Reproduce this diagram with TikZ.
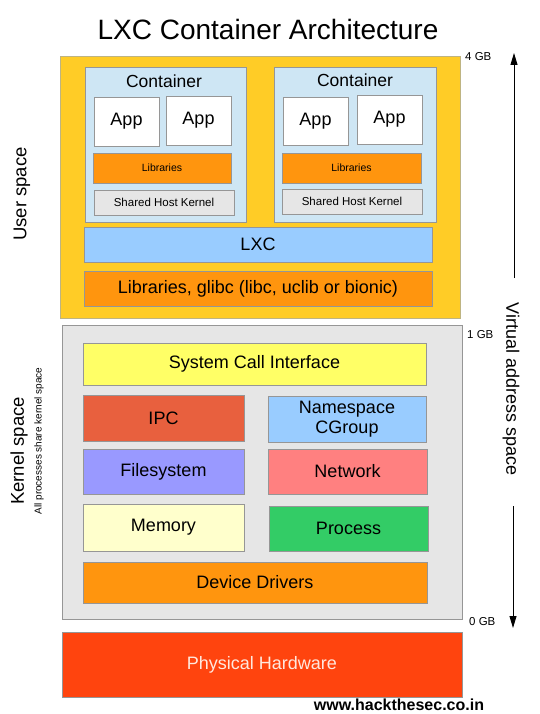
\documentclass[tikz,border=0pt]{standalone}
\usepackage{fontspec}
\setmainfont{Liberation Sans}
\usetikzlibrary{arrows.meta}
\definecolor{uyellow}{RGB}{255,204,38}
\definecolor{ublue}{RGB}{206,230,244}
\definecolor{uorange}{RGB}{255,149,14}
\definecolor{ugray}{RGB}{230,230,230}
\definecolor{lxcblue}{RGB}{153,204,255}
\definecolor{syellow}{RGB}{255,255,102}
\definecolor{ipcred}{RGB}{232,96,62}
\definecolor{fsblue}{RGB}{153,153,255}
\definecolor{netred}{RGB}{255,128,128}
\definecolor{memyellow}{RGB}{255,255,204}
\definecolor{procgreen}{RGB}{51,204,102}
\definecolor{hwred}{RGB}{255,68,14}
\definecolor{hwtext}{RGB}{255,232,222}
\definecolor{bordergray}{RGB}{150,150,150}
\definecolor{outerborder}{RGB}{190,180,130}
\newcommand\fM{\fontsize{18}{20}\selectfont}
\newcommand\fS{\fontsize{11.5}{13}\selectfont}
\newcommand\fT{\fontsize{10.5}{12}\selectfont}
\begin{document}
\begin{tikzpicture}[x=1pt,y=-1pt,
  box/.style={draw=bordergray, line width=0.8pt, inner sep=0pt, align=center, font=\fM},
  gb/.style={anchor=west, inner sep=0pt, font=\fS},
  arr/.style={line width=0.9pt, -{Triangle[width=7pt,length=12pt]}}]
\useasboundingbox (0,0) rectangle (540,714);
\fill[white] (0,0) rectangle (540,714);
% title
\node[font=\fontsize{28}{30}\selectfont, inner sep=0pt] (title) at (268,29) {LXC Container Architecture};
% user space
\node[box, draw=outerborder, fill=uyellow, minimum width=400pt, minimum height=262pt] (user) at (260,187) {};
\node[box, fill=ublue, minimum width=161pt, minimum height=155pt] (cont1) at (165.5,144.5) {};
\node[box, fill=ublue, minimum width=162pt, minimum height=155pt] (cont2) at (355,144.5) {};
\node[font=\fontsize{17.5}{20}\selectfont, inner sep=0pt] (ct1) at (164,81) {Container};
\node[font=\fontsize{17.5}{20}\selectfont, inner sep=0pt] (ct2) at (355,80) {Container};
\node[box, fill=white, minimum width=65pt, minimum height=49pt] (app1) at (126.5,121.5) {App};
\node[box, fill=white, minimum width=65pt, minimum height=49pt] (app2) at (198.5,120.5) {App};
\node[box, fill=white, minimum width=65pt, minimum height=48pt] (app3) at (315.5,121) {App};
\node[box, fill=white, minimum width=65pt, minimum height=49pt] (app4) at (389.5,119.5) {App};
\node[box, fill=uorange, font=\fT, minimum width=138pt, minimum height=30pt] (lib1) at (162,168) {Libraries};
\node[box, fill=uorange, font=\fT, minimum width=139pt, minimum height=30pt] (lib2) at (351.5,168) {Libraries};
\node[box, fill=ugray, font=\fS, minimum width=140pt, minimum height=25pt] (shk1) at (164,202.5) {Shared Host Kernel};
\node[box, fill=ugray, font=\fS, minimum width=140pt, minimum height=25pt] (shk2) at (352,201.5) {Shared Host Kernel};
\node[box, fill=lxcblue, minimum width=348pt, minimum height=35pt] (lxc) at (258,244.5) {LXC};
\node[box, fill=uorange, minimum width=348pt, minimum height=35pt] (glibc) at (258,288.5) {Libraries, glibc (libc, uclib or bionic)};
% kernel space
\node[box, fill=ugray, minimum width=400pt, minimum height=294pt] (kern) at (262,472) {};
\node[box, fill=syellow, minimum width=343pt, minimum height=42pt] (sci) at (254.5,364) {System Call Interface};
\node[box, fill=ipcred, minimum width=161pt, minimum height=46pt] (ipc) at (163.5,418) {IPC};
\node[box, fill=lxcblue, minimum width=158pt, minimum height=46pt] (ns) at (347,419) {Namespace\\CGroup};
\node[box, fill=fsblue, minimum width=161pt, minimum height=45pt] (fs) at (163.5,471.5) {Filesystem};
\node[box, fill=netred, minimum width=159pt, minimum height=45pt] (net) at (347.5,471.5) {Network};
\node[box, fill=memyellow, minimum width=161pt, minimum height=47pt] (mem) at (163.5,527.5) {Memory};
\node[box, fill=procgreen, minimum width=159pt, minimum height=45pt] (proc) at (348.5,528.5) {Process};
\node[box, fill=uorange, minimum width=344pt, minimum height=41pt] (dd) at (255,582.5) {Device Drivers};
% hardware
\node[box, fill=hwred, text=hwtext, minimum width=400pt, minimum height=65pt] (hw) at (262,664.5) {Physical Hardware};
\node[font=\bfseries\fontsize{16}{18}\selectfont, inner sep=0pt] (url) at (399,704.5) {www.hackthesec.co.in};
% side labels
\node[rotate=90, font=\fontsize{18.5}{20}\selectfont, inner sep=0pt] (uspace) at (22,194) {User space};
\node[rotate=90, font=\fontsize{18.5}{20}\selectfont, inner sep=0pt] (kspace) at (19,451) {Kernel space};
\node[rotate=90, font=\fontsize{10}{12}\selectfont, inner sep=0pt] (allp) at (39,441) {All processes share kernel space};
\node[rotate=-90, font=\fM, inner sep=0pt] (vas) at (511,389) {Virtual address space};
% GB labels
\node[gb] (g4) at (465,57) {4 GB};
\node[gb] (g1) at (467,335) {1 GB};
\node[gb] (g0) at (469,622) {0 GB};
% arrows
\coordinate (upS) at (514,278);
\coordinate (upE) at (514,53);
\coordinate (dnS) at (513,506);
\coordinate (dnE) at (513,628);
\draw[arr] (upS) -- (upE);
\draw[arr] (dnS) -- (dnE);
\end{tikzpicture}
\end{document}
